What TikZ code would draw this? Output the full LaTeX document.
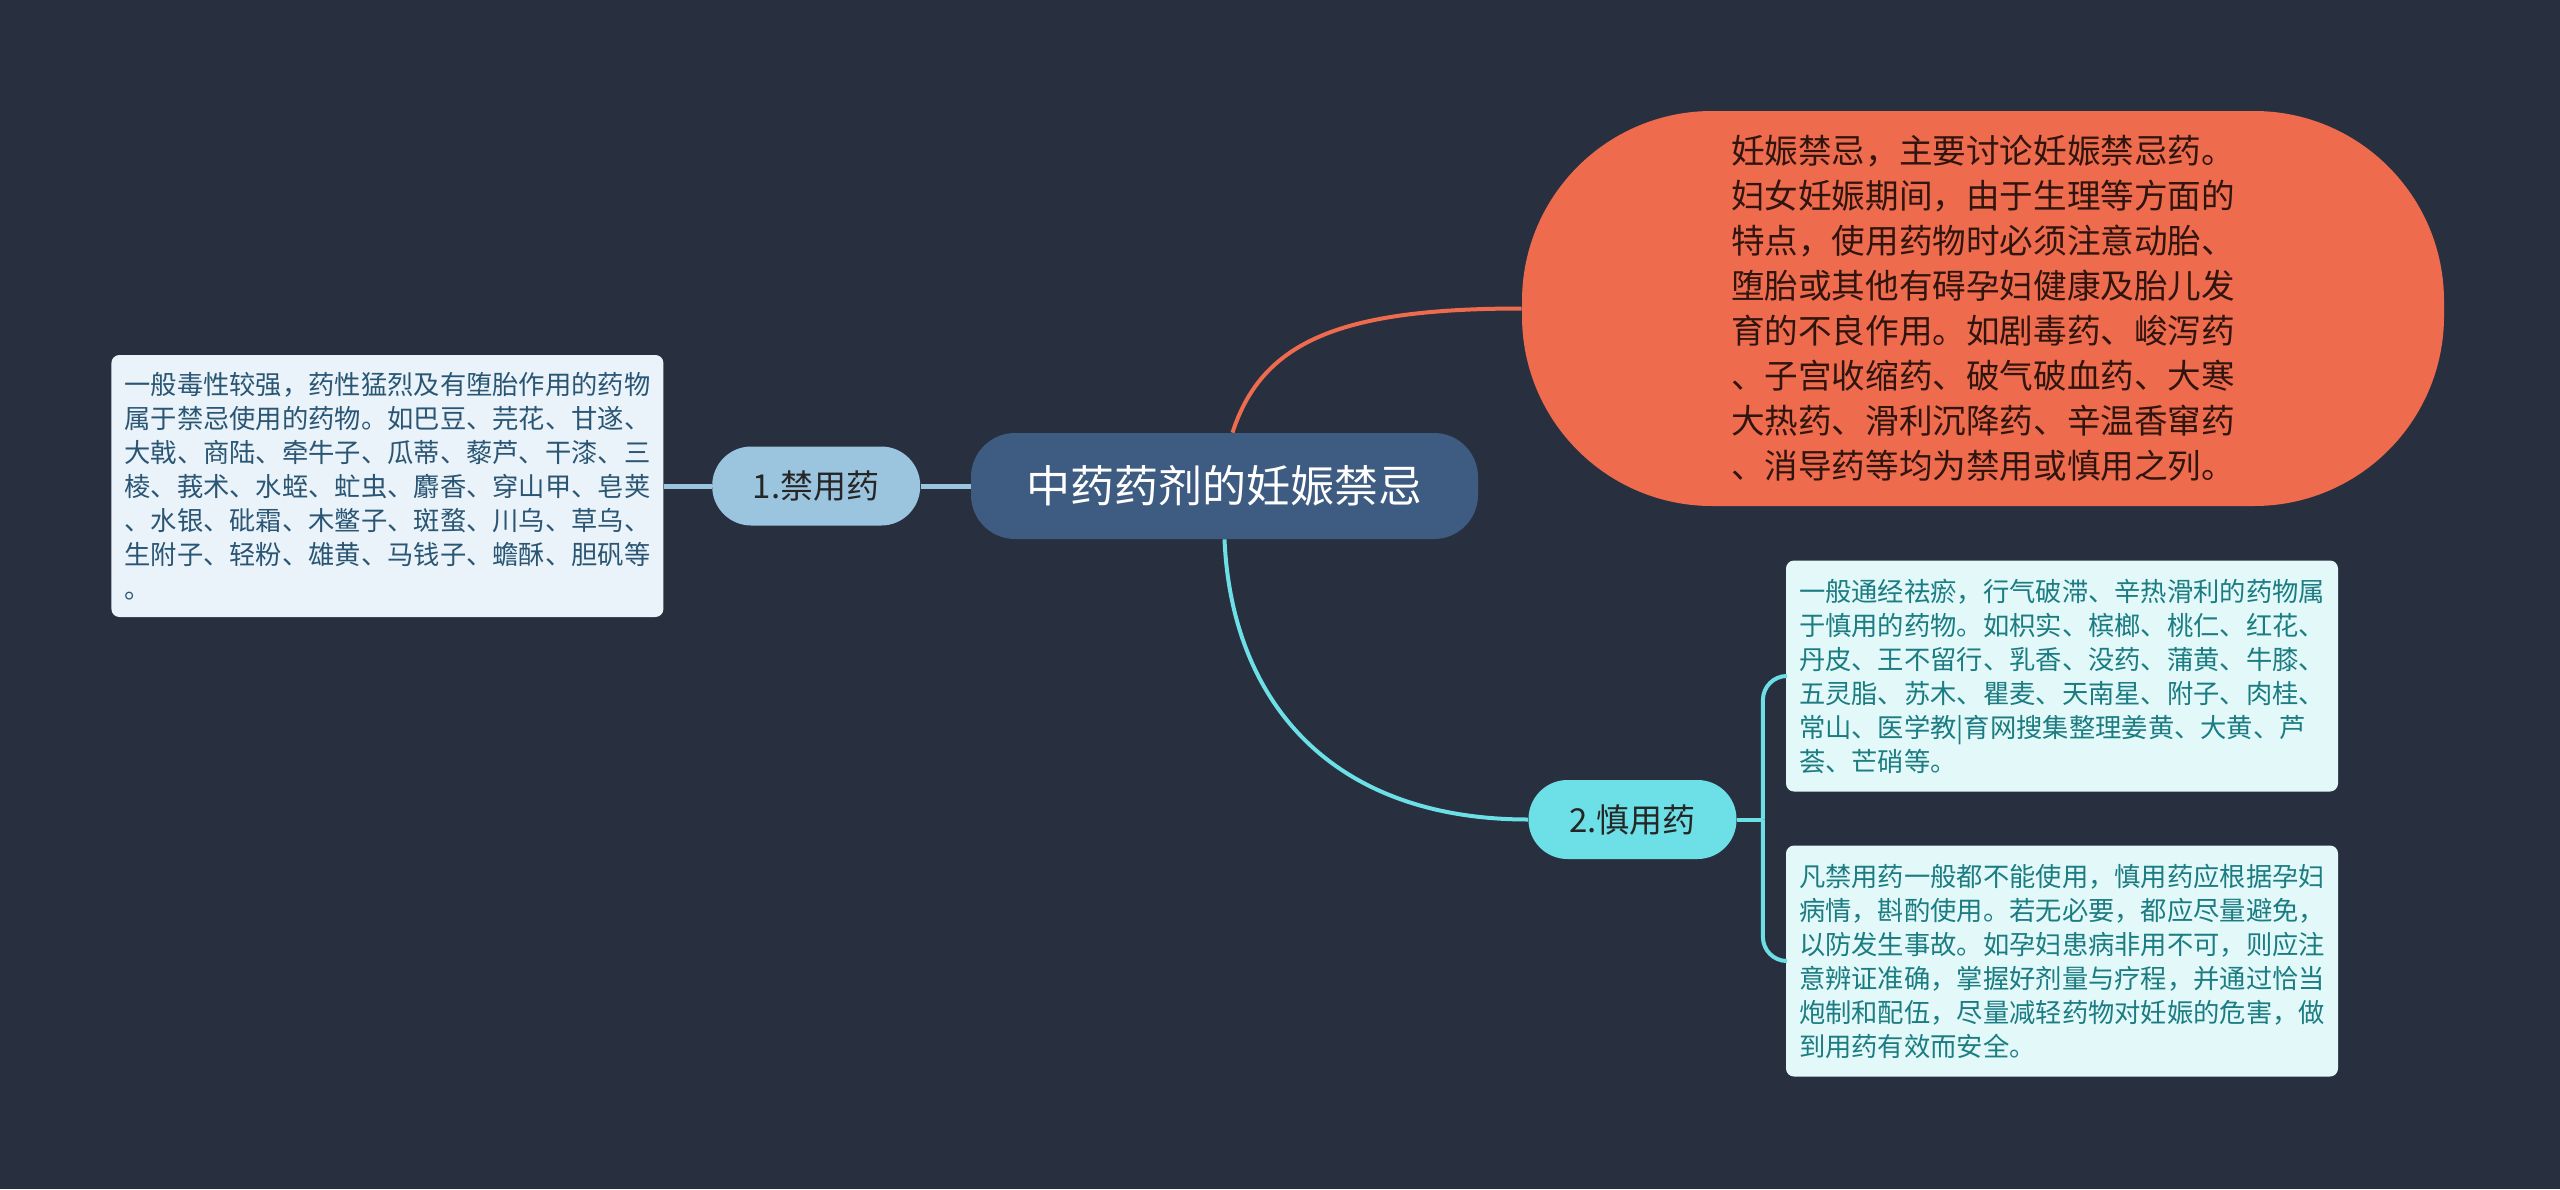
\documentclass[tikz,border=0pt]{standalone}
\usepackage{fontspec}
\newfontfamily\cjk{Noto Sans CJK SC}
\usetikzlibrary{positioning}
\definecolor{bgnavy}{HTML}{283040}
\definecolor{titleblue}{HTML}{3E5B82}
\definecolor{coral}{HTML}{EE6B4D}
\definecolor{paleblue}{HTML}{9BC4DE}
\definecolor{aqua}{HTML}{6DDFE6}
\definecolor{jinfill}{HTML}{EBF3FA}
\definecolor{jintext}{HTML}{2A5674}
\definecolor{shenfill}{HTML}{E2F8F9}
\definecolor{shentext}{HTML}{1B7C82}
\tikzstyle{topicnode}=[rectangle, inner sep=0pt, font=\cjk\fontsize{16.5}{20}\selectfont, text=black!85, minimum width=104pt, minimum height=39.5pt, rounded corners=19.5pt]
\tikzstyle{jinnode}=[topicnode, fill=paleblue]
\tikzstyle{shennode}=[topicnode, fill=aqua]
\tikzstyle{notebox}=[rectangle, rounded corners=4pt, inner xsep=6.5pt, inner ysep=0pt, text width=263pt, align=left, font=\cjk\fontsize{13.15}{17}\selectfont]
\tikzstyle{jinbox}=[notebox, fill=jinfill, text=jintext, minimum height=131pt]
\tikzstyle{shenbox}=[notebox, fill=shenfill, text=shentext, minimum height=115.5pt]
\tikzstyle{jinline}=[draw=paleblue, line width=2.5pt]
\tikzstyle{shenline}=[draw=aqua, line width=2pt, rounded corners=12pt]
\tikzstyle{coralline}=[draw=coral, line width=2pt]

\begin{document}
\begin{tikzpicture}[x=0.5pt, y=-0.5pt]
    \fill[bgnavy] (0,0) rectangle (2560,1189);
    \useasboundingbox (0,0) rectangle (2560,1189);

    \node[rectangle, fill=titleblue, text=white, font=\cjk\fontsize{22}{26}\selectfont,
          minimum width=253.5pt, minimum height=53pt, rounded corners=22pt] (title) at (1224.5,486) {中药药剂的妊娠禁忌};

    \node[jinnode, left=25pt of title] (jin) {1.禁用药};
    \node[jinbox, left=24pt of jin] (jinbox) {一般毒性较强，药性猛烈及有堕胎作用的药物\\属于禁忌使用的药物。如巴豆、芫花、甘遂、\\大戟、商陆、牵牛子、瓜蒂、藜芦、干漆、三\\棱、莪术、水蛭、虻虫、麝香、穿山甲、皂荚\\、水银、砒霜、木鳖子、斑蝥、川乌、草乌、\\生附子、轻粉、雄黄、马钱子、蟾酥、胆矾等\\。};

    \node[rectangle, fill=coral, text=black!80!coral, inner sep=0pt, minimum width=461pt, minimum height=197.5pt,
          rounded corners=95pt, text width=252pt, align=left, font=\cjk\fontsize{16.8}{22.5}\selectfont] (note) at (1983,308.5)
        {妊娠禁忌，主要讨论妊娠禁忌药。\\妇女妊娠期间，由于生理等方面的\\特点，使用药物时必须注意动胎、\\堕胎或其他有碍孕妇健康及胎儿发\\育的不良作用。如剧毒药、峻泻药\\、子宫收缩药、破气破血药、大寒\\大热药、滑利沉降药、辛温香窜药\\、消导药等均为禁用或慎用之列。};

    \node[shennode] (shen) at (1632.5,819.5) {2.慎用药};
    \node[shenbox] (shenbox1) at (2062,676) {一般通经祛瘀，行气破滞、辛热滑利的药物属\\于慎用的药物。如枳实、槟榔、桃仁、红花、\\丹皮、王不留行、乳香、没药、蒲黄、牛膝、\\五灵脂、苏木、瞿麦、天南星、附子、肉桂、\\常山、医学教|育网搜集整理姜黄、大黄、芦\\荟、芒硝等。};
    \node[shenbox] (shenbox2) at (2062,961) {凡禁用药一般都不能使用，慎用药应根据孕妇\\病情，斟酌使用。若无必要，都应尽量避免，\\以防发生事故。如孕妇患病非用不可，则应注\\意辨证准确，掌握好剂量与疗程，并通过恰当\\炮制和配伍，尽量减轻药物对妊娠的危害，做\\到用药有效而安全。};

    % branches
    \draw[coralline] ([xshift=4pt]title.north) .. controls +(30,-93) and +(-178,0) .. (note.west);
    \draw[shenline, rounded corners=0pt] (title.south) .. controls +(7,161) and +(-198,0) .. (shen.west);
    \draw[jinline] (title.west) -- (jin.east);
    \draw[jinline] (jin.west) -- (jinbox.east);
    \draw[shenline] (shen.east) -- ++(26,0) coordinate (fork);
    \draw[shenline] (fork) |- (shenbox1.west);
    \draw[shenline] (fork) |- (shenbox2.west);
\end{tikzpicture}
\end{document}
